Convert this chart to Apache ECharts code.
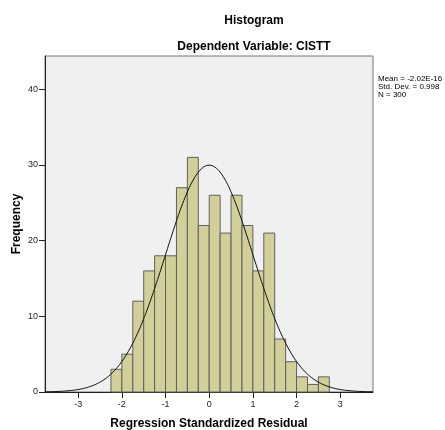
<!DOCTYPE html>
<html>
<head>
<meta charset="utf-8">
<script src="https://cdn.jsdelivr.net/npm/echarts@6/dist/echarts.min.js"></script>
<style>
  html, body { margin: 0; padding: 0; background: #fff; }
  #chart { width: 445px; height: 430px; }
</style>
</head>
<body>
<div id="chart"></div>
<script>
// Histogram of regression standardized residuals, 0.25-wide bins
const binEdges = [-2.25, -2.0, -1.75, -1.5, -1.25, -1.0, -0.75, -0.5, -0.25, 0.0,
                  0.25, 0.5, 0.75, 1.0, 1.25, 1.5, 1.75, 2.0, 2.25, 2.5, 2.75];
const counts = [3, 5, 12, 16, 18, 18, 27, 31, 22, 26, 21, 26, 22, 16, 21, 7, 4, 2, 1, 2];

const xTicks = [-3, -2, -1, 0, 1, 2, 3];
const yTicks = [0, 10, 20, 30, 40];

// Fit statistics printed beside the plot
const statMean = -2.02e-16;
const statSd = 0.998;
const statN = 300;
const statLines = ['Mean = -2.02E-16', 'Std. Dev. = 0.998', 'N = 300'];

const xMin = -3.76, xMax = 3.75;
const yMax = 44.4;

// Bars: one rectangle per bin, spanning its edges
const barData = counts.map((c, i) => [binEdges[i], binEdges[i + 1], c]);

// Normal curve scaled to the histogram (N * bin width)
const binWidth = binEdges[1] - binEdges[0];
const curve = [];
for (let k = 0; k <= 300; k++) {
  const x = xMin + (xMax - xMin) * k / 300;
  const z = (x - statMean) / statSd;
  const y = statN * binWidth * Math.exp(-0.5 * z * z) / (statSd * Math.sqrt(2 * Math.PI));
  curve.push([x, y]);
}

const font = 'Liberation Sans, Arial, sans-serif';
const chart = echarts.init(document.getElementById('chart'));
chart.setOption({
  animation: false,
  backgroundColor: '#ffffff',
  title: [
    { text: 'Histogram', left: 249, top: 10, textAlign: 'center',
      textStyle: { fontFamily: font, fontSize: 12, fontWeight: 'bold', color: '#000' } },
    { text: 'Dependent Variable: CISTT', left: 249, top: 36, textAlign: 'center',
      textStyle: { fontFamily: font, fontSize: 12, fontWeight: 'bold', color: '#000' } }
  ],
  grid: {
    left: 45, top: 56, width: 328, height: 336,
    outerBoundsMode: 'none', containLabel: false,
    show: true, backgroundColor: '#F0F0F0', borderColor: '#777', borderWidth: 1
  },
  xAxis: {
    type: 'value', min: xMin, max: xMax,
    name: 'Regression Standardized Residual', nameLocation: 'middle', nameGap: 26,
    nameMoveOverlap: false,
    nameTextStyle: { fontFamily: font, fontSize: 12, fontWeight: 'bold', color: '#000' },
    splitLine: { show: false },
    axisLine: { show: true, onZero: false, lineStyle: { color: '#222', width: 1 } },
    axisTick: { show: true, length: 6, customValues: xTicks, lineStyle: { color: '#222' } },
    axisLabel: { customValues: xTicks, fontFamily: font, fontSize: 9, color: '#222', margin: 8 }
  },
  yAxis: {
    type: 'value', min: 0, max: yMax,
    name: 'Frequency', nameLocation: 'middle', nameGap: 22, nameRotate: 90,
    nameMoveOverlap: false,
    nameTextStyle: { fontFamily: font, fontSize: 12, fontWeight: 'bold', color: '#000' },
    splitLine: { show: false },
    axisLine: { show: true, onZero: false, lineStyle: { color: '#222', width: 1 } },
    axisTick: { show: true, length: 6, customValues: yTicks, lineStyle: { color: '#222' } },
    axisLabel: { customValues: yTicks, fontFamily: font, fontSize: 9, color: '#222', margin: 7 }
  },
  series: [
    {
      type: 'custom',
      data: barData,
      encode: { x: [0, 1], y: 2 },
      renderItem: function (params, api) {
        const p0 = api.coord([api.value(0), 0]);
        const p1 = api.coord([api.value(1), api.value(2)]);
        return {
          type: 'rect',
          shape: { x: p0[0], y: p1[1], width: p1[0] - p0[0], height: p0[1] - p1[1] },
          style: { fill: '#D3CF98', stroke: '#5f5f5f', lineWidth: 1 }
        };
      },
      z: 2
    },
    {
      type: 'line',
      data: curve,
      showSymbol: false,
      smooth: false,
      lineStyle: { color: '#111', width: 1 },
      z: 3
    }
  ],
  graphic: statLines.map((t, i) => ({
    type: 'text',
    left: 378, top: 75 + i * 8,
    style: { text: t, fontFamily: font, fontSize: 8, lineHeight: 8, fill: '#000' }
  }))
});
</script>
</body>
</html>
